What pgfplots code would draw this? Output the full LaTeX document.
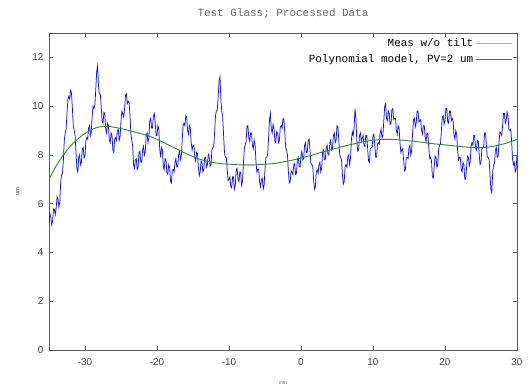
\documentclass[border=0pt]{standalone}
\usepackage{pgfplots}
\pgfplotsset{compat=1.18}
\usepackage{fontspec}
\setmainfont{Liberation Sans}
\newfontfamily\monofont{Liberation Mono}
\definecolor{measblue}{RGB}{15,15,240}
\definecolor{legblue}{RGB}{170,170,235}
\definecolor{polygreen}{RGB}{50,130,50}
\definecolor{axgray}{RGB}{90,90,90}
\begin{document}
\begin{tikzpicture}
\useasboundingbox (-49bp,-37bp) rectangle (483bp,350bp);
\begin{axis}[
  at={(0,0)}, anchor=south west,
  scale only axis, width=468bp, height=317bp,
  xmin=-35, xmax=30, ymin=0, ymax=13,
  xtick={-30,-20,-10,0,10,20,30},
  ytick={0,2,4,6,8,10,12},
  tick align=inside, major tick length=4bp,
  axis line style={axgray, line width=0.8pt},
  every tick/.style={axgray, line width=0.6pt},
  /pgf/number format/assume math mode=true,
  tick label style={font=\fontsize{10}{12}\selectfont, text=black!75},
  xticklabel style={yshift=-5bp},
  yticklabel style={xshift=-2bp},
  title={\monofont\fontsize{11}{12}\selectfont Test Glass; Processed Data},
  title style={text=black!60, at={(0.5,1)}, anchor=base, yshift=11bp},
  xlabel={\fontsize{5}{6}\selectfont mm},
  xlabel style={text=black!60, yshift=-9bp},
  ylabel={\fontsize{6}{7}\selectfont um},
  ylabel style={text=black!70, yshift=6bp},
  legend plot pos=right,
  legend cell align=right,
  legend style={draw=none, fill=none, at={(0.997,0.995)}, anchor=north east,
    font=\monofont\fontsize{11}{12}\selectfont, row sep=2.5bp},
  legend image code/.code={\draw[#1] (0bp,0bp) -- (36bp,0bp);},
]
\addlegendimage{legblue, line width=1.2pt}
\addlegendentry{Meas w/o tilt}
\addlegendimage{polygreen, line width=1.1pt}
\addlegendentry{Polynomial model, PV=2 um}
\addplot[measblue, line width=0.75pt, forget plot] table {
x y
-35.000 5.25
-34.875 5.60
-34.750 5.45
-34.625 5.13
-34.500 5.30
-34.375 5.78
-34.250 5.75
-34.125 5.55
-34.000 5.85
-33.875 6.28
-33.750 6.20
-33.625 5.88
-33.500 6.05
-33.375 6.88
-33.250 7.20
-33.125 7.25
-33.000 7.80
-32.875 8.60
-32.750 8.90
-32.625 9.05
-32.500 9.70
-32.375 10.30
-32.250 10.40
-32.125 10.28
-32.000 10.65
-31.875 10.53
-31.750 9.90
-31.625 9.20
-31.500 9.00
-31.375 8.80
-31.250 8.10
-31.125 7.45
-31.000 7.30
-30.875 7.90
-30.750 8.00
-30.625 7.60
-30.500 7.70
-30.375 8.25
-30.250 8.30
-30.125 7.88
-30.000 7.95
-29.875 8.58
-29.750 8.70
-29.625 8.65
-29.500 9.10
-29.375 9.20
-29.250 8.80
-29.125 8.95
-29.000 9.60
-28.875 10.00
-28.750 9.90
-28.625 10.05
-28.500 10.70
-28.375 11.43
-28.250 11.65
-28.125 10.83
-28.000 10.50
-27.875 10.50
-27.750 10.00
-27.625 9.40
-27.500 9.30
-27.375 9.75
-27.250 9.70
-27.125 9.05
-27.000 8.90
-26.875 9.30
-26.750 9.20
-26.625 8.60
-26.500 8.50
-26.375 8.90
-26.250 8.80
-26.125 8.20
-26.000 8.10
-25.875 8.65
-25.750 8.70
-25.625 8.60
-25.500 9.00
-25.375 9.05
-25.250 8.60
-25.125 8.75
-25.000 9.40
-24.875 9.80
-24.750 9.70
-24.625 9.55
-24.500 9.90
-24.375 10.45
-24.250 10.50
-24.125 10.10
-24.000 10.20
-23.875 10.15
-23.750 9.60
-23.625 8.85
-23.500 8.60
-23.375 8.35
-23.250 7.60
-23.125 7.45
-23.000 7.80
-22.875 7.85
-22.750 7.40
-22.625 7.50
-22.500 8.10
-22.375 8.15
-22.250 7.70
-22.125 7.70
-22.000 8.20
-21.875 8.35
-21.750 8.00
-21.625 8.15
-21.500 8.80
-21.375 8.90
-21.250 8.50
-21.125 8.70
-21.000 9.40
-20.875 9.50
-20.750 9.10
-20.625 9.10
-20.500 9.60
-20.375 9.70
-20.250 9.30
-20.125 8.80
-20.000 8.80
-19.875 9.20
-19.750 9.10
-19.625 8.25
-19.500 7.90
-19.375 8.30
-19.250 8.20
-19.125 7.55
-19.000 7.40
-18.875 7.85
-18.750 7.80
-18.625 7.25
-18.500 7.20
-18.375 7.60
-18.250 7.50
-18.125 6.93
-18.000 6.85
-17.875 7.38
-17.750 7.40
-17.625 7.30
-17.500 7.70
-17.375 7.85
-17.250 7.50
-17.125 7.50
-17.000 8.00
-16.875 8.15
-16.750 7.80
-16.625 7.95
-16.500 8.60
-16.375 9.20
-16.250 9.30
-16.125 9.20
-16.000 9.60
-15.875 9.55
-15.750 9.00
-15.625 8.85
-15.500 9.20
-15.375 9.10
-15.250 8.50
-15.125 8.20
-15.000 8.40
-14.875 8.40
-14.750 7.90
-14.625 7.75
-14.500 8.10
-14.375 8.05
-14.250 7.50
-14.125 7.15
-14.000 7.30
-13.875 7.75
-13.750 7.70
-13.625 7.30
-13.500 7.40
-13.375 7.90
-13.250 7.90
-13.125 7.50
-13.000 7.60
-12.875 8.03
-12.750 7.95
-12.625 7.53
-12.500 7.60
-12.375 8.20
-12.250 8.30
-12.125 8.35
-12.000 8.90
-11.875 9.60
-11.750 9.80
-11.625 9.85
-11.500 10.40
-11.375 11.05
-11.250 11.20
-11.125 10.25
-11.000 9.80
-10.875 9.55
-10.750 8.80
-10.625 8.10
-10.500 7.90
-10.375 7.90
-10.250 7.40
-10.125 6.95
-10.000 7.00
-9.875 7.10
-9.750 6.70
-9.625 6.65
-9.500 7.10
-9.375 7.10
-9.250 6.60
-9.125 6.75
-9.000 7.40
-8.875 7.45
-8.750 7.00
-8.625 6.90
-8.500 7.30
-8.375 7.28
-8.250 6.75
-8.125 6.93
-8.000 7.60
-7.875 8.25
-7.750 8.40
-7.625 8.55
-7.500 9.20
-7.375 9.20
-7.250 8.70
-7.125 8.55
-7.000 8.90
-6.875 8.90
-6.750 8.40
-6.625 8.25
-6.500 8.60
-6.375 8.40
-6.250 7.70
-6.125 7.30
-6.000 7.40
-5.875 7.40
-5.750 6.90
-5.625 6.70
-5.500 7.00
-5.375 7.05
-5.250 6.60
-5.125 6.75
-5.000 7.40
-4.875 7.90
-4.750 7.90
-4.625 8.05
-4.500 8.70
-4.375 9.45
-4.250 9.70
-4.125 9.05
-4.000 8.90
-3.875 9.25
-3.750 9.10
-3.625 8.55
-3.500 8.50
-3.375 8.95
-3.250 8.90
-3.125 8.50
-3.000 8.60
-2.875 9.15
-2.750 9.20
-2.625 9.10
-2.500 9.50
-2.375 9.45
-2.250 8.90
-2.125 8.30
-2.000 8.20
-1.875 8.00
-1.750 7.30
-1.625 6.85
-1.500 6.90
-1.375 7.35
-1.250 7.30
-1.125 7.20
-1.000 7.60
-0.875 7.65
-0.750 7.20
-0.625 7.25
-0.500 7.80
-0.375 7.90
-0.250 7.50
-0.125 7.50
0.000 8.00
0.125 8.15
0.250 7.80
0.375 7.85
0.500 8.40
0.625 8.50
0.750 8.10
0.875 8.10
1.000 8.60
1.125 8.65
1.250 8.20
1.375 7.65
1.500 7.60
1.625 7.55
1.750 7.00
1.875 6.60
2.000 6.70
2.125 7.30
2.250 7.40
2.375 7.25
2.500 7.60
2.625 7.70
2.750 7.30
2.875 7.45
3.000 8.10
3.125 8.20
3.250 7.80
3.375 7.80
3.500 8.30
3.625 8.40
3.750 8.00
3.875 8.00
4.000 8.50
4.125 8.60
4.250 8.20
4.375 8.25
4.500 8.80
4.625 8.90
4.750 8.50
4.875 8.60
5.000 9.20
5.125 9.15
5.250 8.60
5.375 8.00
5.500 7.90
5.625 7.80
5.750 7.20
5.875 6.80
6.000 6.90
6.125 7.50
6.250 7.60
6.375 7.50
6.500 7.90
6.625 8.00
6.750 7.60
6.875 7.85
7.000 8.60
7.125 8.95
7.250 8.80
7.375 9.10
7.500 9.90
7.625 9.50
7.750 8.60
7.875 8.15
8.000 8.20
8.125 8.80
8.250 8.90
8.375 8.55
8.500 8.70
8.625 8.80
8.750 8.40
8.875 8.35
9.000 8.80
9.125 8.80
9.250 8.30
9.375 7.75
9.500 7.70
9.625 8.25
9.750 8.30
9.875 8.30
10.000 8.80
10.125 8.85
10.250 8.40
10.375 7.90
10.500 7.90
10.625 8.45
10.750 8.50
10.875 8.45
11.000 8.90
11.125 9.05
11.250 8.70
11.375 8.80
11.500 9.40
11.625 10.00
11.750 10.10
11.875 9.50
12.000 9.40
12.125 9.80
12.250 9.70
12.375 9.25
12.500 9.30
12.625 9.85
12.750 9.90
12.875 9.45
13.000 9.50
13.125 9.50
13.250 9.00
13.375 8.85
13.500 9.20
13.625 9.10
13.750 8.50
13.875 8.10
14.000 8.20
14.125 8.25
14.250 7.80
14.375 7.35
14.500 7.40
14.625 7.90
14.750 7.90
14.875 7.85
15.000 8.30
15.125 8.40
15.250 8.00
15.375 8.20
15.500 8.90
15.625 9.45
15.750 9.50
15.875 9.15
16.000 9.30
16.125 9.80
16.250 9.80
16.375 9.35
16.500 9.40
16.625 9.45
16.750 9.00
16.875 8.85
17.000 9.20
17.125 9.20
17.250 8.70
17.375 8.55
17.500 8.90
17.625 8.85
17.750 8.30
17.875 7.85
18.000 7.90
18.125 7.75
18.250 7.10
18.375 7.05
18.500 7.50
18.625 7.95
18.750 7.90
18.875 7.50
19.000 7.60
19.125 8.25
19.250 8.40
19.375 8.45
19.500 9.00
19.625 9.55
19.750 9.60
19.875 9.25
20.000 9.40
20.125 9.90
20.250 9.90
20.375 9.35
20.500 9.30
20.625 9.80
20.750 9.80
20.875 9.40
21.000 9.50
21.125 9.40
21.250 8.80
21.375 8.65
21.500 9.00
21.625 8.85
21.750 8.20
21.875 7.80
22.000 7.90
22.125 7.90
22.250 7.40
22.375 7.30
22.500 7.70
22.625 7.60
22.750 7.00
22.875 7.00
23.000 7.50
23.125 7.95
23.250 7.90
23.375 7.55
23.500 7.70
23.625 8.35
23.750 8.50
23.875 8.40
24.000 8.80
24.125 8.80
24.250 8.30
24.375 8.20
24.500 8.60
24.625 8.55
24.750 8.00
24.875 7.60
25.000 7.70
25.125 8.25
25.250 8.30
25.375 8.35
25.500 8.90
25.625 8.90
25.750 8.40
25.875 7.90
26.000 7.90
26.125 7.80
26.250 7.20
26.375 6.58
26.500 6.45
26.625 7.28
26.750 7.60
26.875 7.65
27.000 8.20
27.125 8.30
27.250 7.90
27.375 7.95
27.500 8.50
27.625 8.95
27.750 8.90
27.875 8.80
28.000 9.20
28.125 9.70
28.250 9.70
28.375 9.30
28.500 9.40
28.625 9.75
28.750 9.60
28.875 9.05
29.000 9.00
29.125 9.05
29.250 8.60
29.375 7.85
29.500 7.60
29.625 7.70
29.750 7.30
29.875 7.40
30.000 8.00
};
\addplot[polygreen, line width=0.9pt, smooth, forget plot] table {
x y
-35 7.00
-34 7.55
-33 8.00
-32 8.37
-31 8.65
-30 8.88
-29 9.05
-28 9.15
-27 9.17
-26 9.14
-25 9.08
-24 9.01
-23 8.93
-22 8.85
-21 8.76
-20 8.64
-19 8.50
-18 8.35
-17 8.20
-16 8.06
-15 7.93
-14 7.82
-13 7.74
-12 7.68
-11 7.64
-10 7.62
-9 7.60
-8 7.59
-7 7.59
-6 7.60
-5 7.62
-4 7.64
-3 7.68
-2 7.74
-1 7.80
0 7.87
1 7.95
2 8.03
3 8.12
4 8.20
5 8.28
6 8.36
7 8.43
8 8.50
9 8.56
10 8.60
11 8.63
12 8.64
13 8.63
14 8.61
15 8.58
16 8.55
17 8.51
18 8.47
19 8.44
20 8.41
21 8.38
22 8.35
23 8.32
24 8.30
25 8.30
26 8.32
27 8.37
28 8.44
29 8.53
30 8.64
};
\draw[white, line width=2pt] (axis cs:-5.95,0) -- (axis cs:-5.3,0);
\end{axis}
\end{tikzpicture}
\end{document}
